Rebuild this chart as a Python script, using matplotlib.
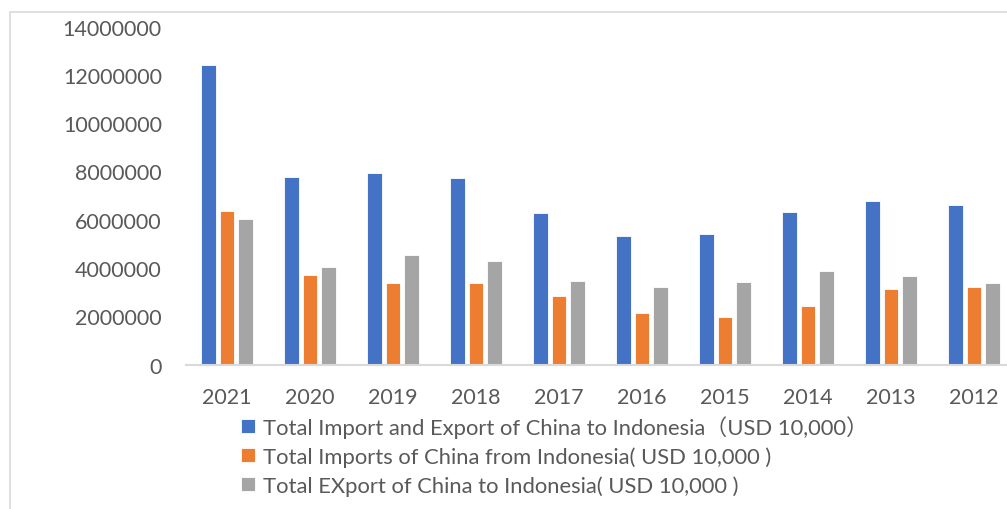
import matplotlib
matplotlib.use("Agg")
import numpy as np
from matplotlib import pyplot as plt
from matplotlib.patches import Rectangle

# data (USD 10,000)
years = ["2021", "2020", "2019", "2018", "2017", "2016", "2015", "2014", "2013", "2012"]
total_trade = [12400000, 7790000, 7940000, 7710000, 6290000, 5330000, 5410000, 6320000, 6790000, 6590000]
imports_from = [6380000, 3710000, 3390000, 3390000, 2830000, 2130000, 1960000, 2440000, 3120000, 3200000]
exports_to = [6050000, 4060000, 4550000, 4310000, 3460000, 3200000, 3430000, 3860000, 3670000, 3390000]

labels = ["Total Import and Export of China to Indonesia\uff08USD 10,000\uff09",
          "Total Imports of China from Indonesia( USD 10,000 )",
          "Total EXport of China to Indonesia( USD 10,000 )"]
colors = ["#4472C4", "#ED7D31", "#A5A5A5"]

fam = ["Lato", "Noto Sans CJK SC", "DejaVu Sans"]
plt.rcParams['font.family'] = fam
txt = "#595959"

W, H = 1007, 510
fig = plt.figure(figsize=(W / 100, H / 100), dpi=100)

# light outer border of the chart area
fig.patches.append(Rectangle((10 / W, -0.1), 1.2, (H - 13) / H + 0.1, transform=fig.transFigure,
                             fill=False, edgecolor="#D9D9D9", linewidth=1.2))

ax = fig.add_axes([185.5 / W, (H - 365.5) / H, 830 / W, (365.5 - 27.7) / H])

x = np.arange(len(years))
bw = 0.172
pitch = 0.223
series = [total_trade, imports_from, exports_to]
bars = []
for i, vals in enumerate(series):
    b = ax.bar(x + (i - 1) * pitch, vals, width=bw, color=colors[i],
               edgecolor="white", linewidth=0.6, label=labels[i])
    bars.append(b)

ax.set_xlim(-0.5, len(years) - 0.5)
ax.set_ylim(0, 14000000)
ax.set_yticks(np.arange(0, 14000001, 2000000))
ax.set_yticklabels([str(v) for v in range(0, 14000001, 2000000)])
ax.set_xticks(x)
ax.set_xticklabels(years)
ax.tick_params(axis="both", length=0, labelsize=15.5, colors=txt)
ax.tick_params(axis="y", pad=17)
ax.tick_params(axis="x", pad=16)
for s in ["top", "right", "left"]:
    ax.spines[s].set_visible(False)
ax.spines["bottom"].set_color("#D9D9D9")
ax.spines["bottom"].set_linewidth(1.5)

leg = fig.legend(handles=bars, labels=labels, loc="upper left",
                 bbox_to_anchor=(241 / W, (H - 416) / H), frameon=False,
                 fontsize=15.8, handlelength=0.64, handleheight=0.64, handletextpad=0.38,
                 labelspacing=0.38, borderaxespad=0, borderpad=0)
for t in leg.get_texts():
    t.set_color(txt)

fig.savefig("out.png", dpi=100)
